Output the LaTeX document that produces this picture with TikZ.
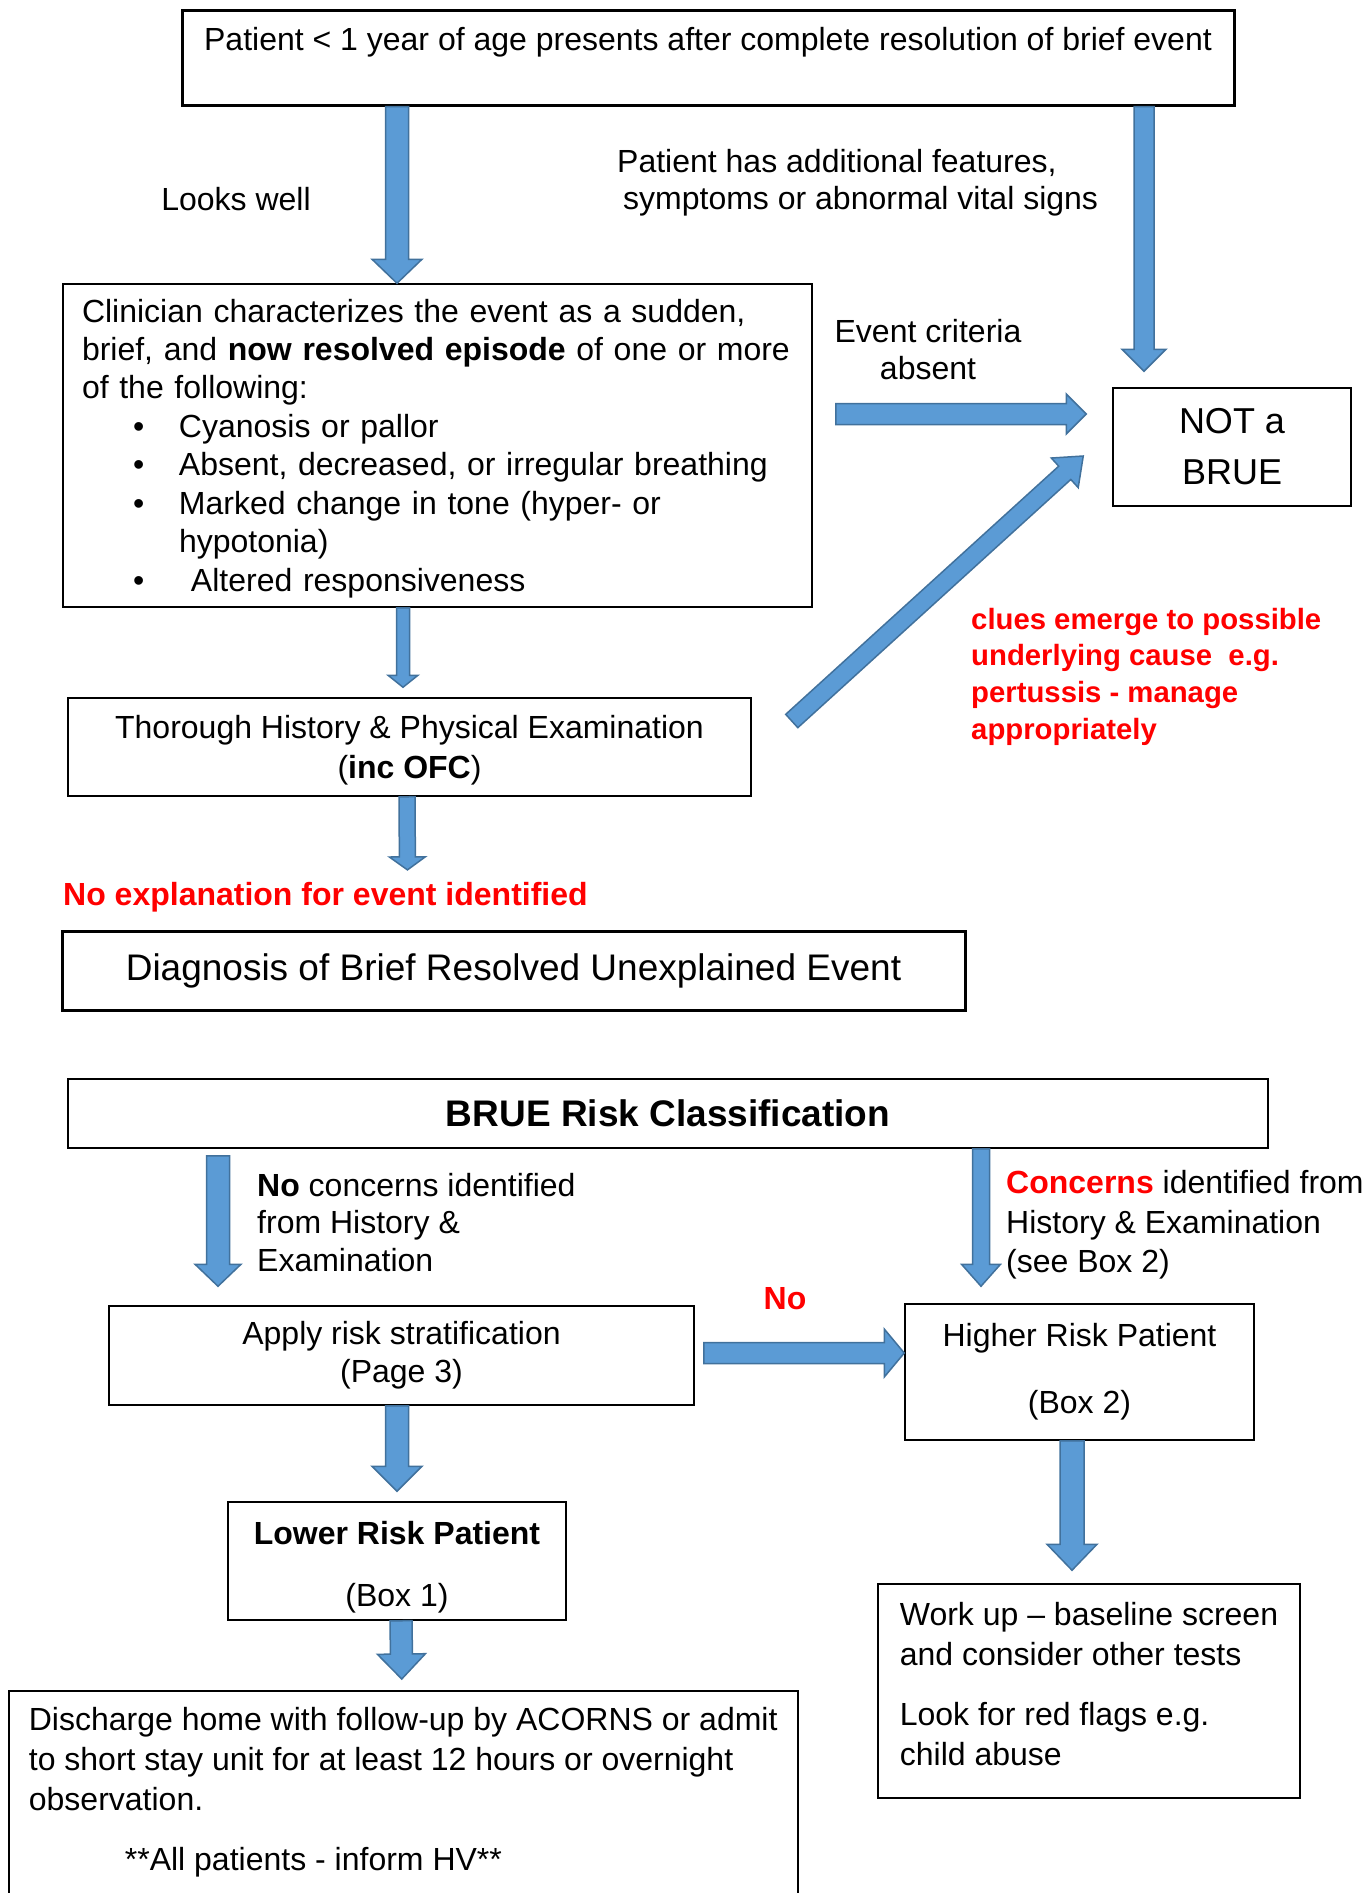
\documentclass[tikz,border=0pt]{standalone}
\usepackage{fontspec}
\setmainfont{Liberation Sans}
\usetikzlibrary{calc}
\definecolor{brred}{RGB}{255,0,0}
\definecolor{arrowblue}{RGB}{91,155,213}
\definecolor{arrowedge}{RGB}{65,113,156}
% from, to, half shaft, half head, head length
\newcommand{\blockarrow}[5]{%
  \coordinate (bs) at #1;
  \coordinate (be) at #2;
  \coordinate (bh) at ($(be)!#5!(bs)$);
  \filldraw[arrowbody] ($(bs)!#3!90:(be)$) -- ($(bh)!#3!90:(be)$) -- ($(bh)!#4!90:(be)$) -- (be)
    -- ($(bh)!#4!-90:(be)$) -- ($(bh)!#3!-90:(be)$) -- ($(bs)!#3!-90:(be)$) -- cycle;
}
\newcommand{\bitem}[1]{\makebox[97pt][l]{\hspace{51pt}\textbullet}#1}
\tikzset{
  box/.style={draw, line width=1.5pt, inner sep=0pt, align=center, font=\fontsize{32}{38}\selectfont},
  thickbox/.style={box, line width=3pt},
  lbl/.style={inner sep=0pt, align=left, font=\fontsize{32}{38}\selectfont},
  redlbl/.style={lbl, text=brred, font=\bfseries\fontsize{32}{38}\selectfont},
  arrowbody/.style={fill=arrowblue, draw=arrowedge, line width=1.5pt, line join=miter}
}

\begin{document}
\begin{tikzpicture}[x=1pt, y=-1pt]
  \useasboundingbox (0,0) rectangle (1369,1893);
  \clip (0,0) rectangle (1369,1893);

  \node[thickbox, minimum width=1052, minimum height=95, text depth=37pt] (top) at (708,57.5)
    {Patient < 1 year of age presents after complete resolution of brief event};
  \node[lbl] (looks) at (236,199) {Looks well};
  \node[lbl, anchor=west] (extra) at (617,183)
    {Patient has additional features,\\[-1pt]\hspace*{6pt}symptoms or abnormal vital signs};

  \node[box, align=left, text width=711pt, inner xsep=19pt, minimum height=323, text height=29.5pt] (clin) at (437.5,445.5)
    {Clinician characterizes the event as a sudden,\\
     brief, and \textbf{now resolved episode} of one or more\\
     of the following:\\[0.5pt]
     \bitem{Cyanosis or pallor}\\[0.5pt]
     \bitem{Absent, decreased, or irregular breathing}\\[0.5pt]
     \bitem{Marked change in tone (hyper- or}\\[0.5pt]
     \hspace*{97pt}hypotonia)\\[0.5pt]
     \bitem{\hspace{12pt}Altered responsiveness}};
  \node[lbl, align=center] (event) at (928,349.5) {Event criteria\\[-1pt]absent};
  \node[box, minimum width=238, minimum height=118, font=\fontsize{36}{51}\selectfont] (notbrue) at (1232,447)
    {NOT a\\BRUE};
  \node[lbl, text=brred, font=\bfseries\fontsize{29.3}{36.7}\selectfont, anchor=west] (clues) at (971,676.5)
    {clues emerge to possible\\underlying cause\ \ e.g.\\pertussis - manage\\appropriately};

  \node[box, minimum width=683, minimum height=98, text height=70.5pt] (exam) at (409.5,747)
    {Thorough History \& Physical Examination\\[2pt](\textbf{inc OFC})};
  \node[redlbl, anchor=west] (noexp) at (63,897) {No explanation for event identified};
  \node[thickbox, minimum width=903, minimum height=79, font=\fontsize{37}{44}\selectfont] (diag) at (513.5,970.5)
    {Diagnosis of Brief Resolved Unexplained Event};

  \node[box, minimum width=1200, minimum height=69, font=\bfseries\fontsize{37}{44}\selectfont] (risk) at (668,1113.5)
    {BRUE Risk Classification};
  \node[lbl, anchor=west] (nocon) at (257,1222.5)
    {\textbf{No} concerns identified\\[-0.5pt]from History \&\\[-0.5pt]Examination};
  \node[lbl, anchor=west] (concern) at (1006,1225)
    {\textcolor{brred}{\textbf{Concerns}} identified from\\[1.5pt]History \& Examination\\[1.5pt](see Box 2)};
  \node[redlbl] (no) at (785,1299) {No};

  \node[box, minimum width=585, minimum height=99] (apply) at (401.5,1355.5)
    {Apply risk stratification\\(Page 3)};
  \node[box, minimum width=349, minimum height=136] (higher) at (1079.5,1372)
    {Higher Risk Patient\\[29pt](Box 2)};
  \node[box, minimum width=338, minimum height=118, text height=97.5pt] (lower) at (397,1561)
    {\textbf{Lower Risk Patient}\\[24pt](Box 1)};
  \node[box, align=left, minimum width=422, minimum height=214, text depth=14pt] (workup) at (1089,1691)
    {Work up -- baseline screen\\[2pt]and consider other tests\\[22pt]Look for red flags e.g.\\[2pt]child abuse};
  \node[box, anchor=north west, align=left, minimum width=789, inner ysep=17pt, text depth=150pt] (discharge) at (8,1690)
    {Discharge home with follow-up by ACORNS or admit\\[2pt]to short stay unit for at least 12 hours or overnight\\[2pt]observation.\\[22pt]\hspace*{96pt}**All patients - inform HV**};

  \blockarrow{([xshift=-311pt]top.south)}{([xshift=-40.5pt]clin.north)}{11.5pt}{25pt}{24pt}
  \blockarrow{([xshift=436pt]top.south)}{([xshift=-88pt,yshift=16pt]notbrue.north)}{10pt}{22pt}{22pt}
  \blockarrow{([xshift=23pt,yshift=31.5pt]clin.east)}{([xshift=-26pt,yshift=33pt]notbrue.west)}{10.5pt}{20pt}{20pt}
  \blockarrow{([xshift=40pt,yshift=26pt]exam.east)}{([xshift=-29pt,yshift=-9pt]notbrue.west)}{9pt}{20pt}{25pt}
  \blockarrow{([xshift=-34.5pt]clin.south)}{([xshift=-6.5pt,yshift=10pt]exam.north)}{6.5pt}{15pt}{12pt}
  \blockarrow{([xshift=-2.5pt]exam.south)}{([xshift=82pt,yshift=12pt]noexp.north)}{8pt}{18pt}{13pt}
  \blockarrow{([xshift=-450pt,yshift=-7pt]risk.south)}{([xshift=-183.5pt,yshift=19pt]apply.north)}{11.5pt}{23pt}{22pt}
  \blockarrow{([xshift=313pt]risk.south)}{([xshift=-98.5pt,yshift=17pt]higher.north)}{8.5pt}{19.5pt}{22pt}
  \blockarrow{([xshift=9pt,yshift=2.5pt]apply.east)}{([yshift=19pt]higher.west)}{10.5pt}{24pt}{20pt}
  \blockarrow{([xshift=-4.5pt]apply.south)}{([yshift=10pt]lower.north)}{11.5pt}{25pt}{25pt}
  \blockarrow{([xshift=-7.5pt]higher.south)}{([xshift=-17pt,yshift=13pt]workup.north)}{12pt}{25pt}{26pt}
  \blockarrow{([xshift=4pt]lower.south)}{([xshift=-1.5pt,yshift=11pt]discharge.north)}{11pt}{24pt}{25pt}
\end{tikzpicture}
\end{document}
